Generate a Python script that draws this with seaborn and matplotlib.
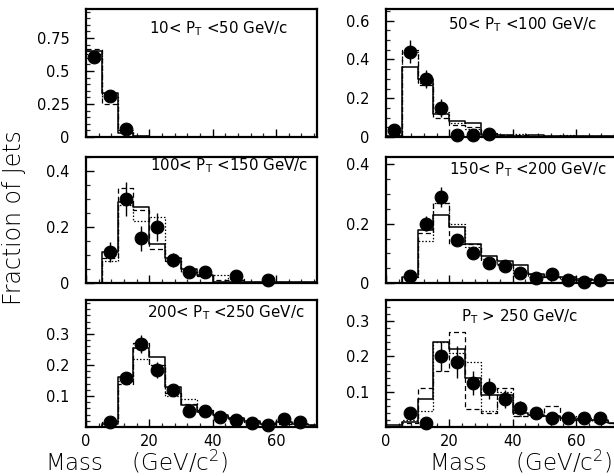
import numpy as np
import pandas as pd
import matplotlib
matplotlib.use("Agg")
import matplotlib.pyplot as plt
import seaborn as sns
from matplotlib.ticker import MultipleLocator, FixedLocator

sns.set_theme(style="ticks")
plt.rcParams["font.family"] = ["DejaVu Sans"]

# ---------------- data ----------------
bin_edges = [0, 5, 10, 15, 20, 25, 30, 35, 40, 45, 50, 55, 60, 65, 70, 75]
bin_centers = [2.5, 7.5, 12.5, 17.5, 22.5, 27.5, 32.5, 37.5, 42.5, 47.5, 52.5, 57.5, 62.5, 67.5, 72.5]

titles = ["10< P$_\\mathregular{T}$ <50 GeV/c", "50< P$_\\mathregular{T}$ <100 GeV/c",
          "100< P$_\\mathregular{T}$ <150 GeV/c", "150< P$_\\mathregular{T}$ <200 GeV/c",
          "200< P$_\\mathregular{T}$ <250 GeV/c", "P$_\\mathregular{T}$ > 250 GeV/c"]

# data points (mass bin centre, fraction, error)
pts1_x = [2.5, 7.5, 12.5]
pts1_y = [0.61, 0.31, 0.06]
pts1_e = [0.03, 0.02, 0.01]

pts2_x = [2.5, 7.5, 12.5, 17.5, 22.5, 27.5, 32.5]
pts2_y = [0.035, 0.44, 0.30, 0.15, 0.01, 0.01, 0.015]
pts2_e = [0.01, 0.06, 0.045, 0.045, 0.005, 0.005, 0.005]

pts3_x = [7.5, 12.5, 17.5, 22.5, 27.5, 32.5, 37.5, 47.5, 57.5]
pts3_y = [0.11, 0.30, 0.16, 0.20, 0.082, 0.04, 0.04, 0.025, 0.01]
pts3_e = [0.035, 0.06, 0.045, 0.05, 0.025, 0.012, 0.015, 0.008, 0.005]

pts4_x = [7.5, 12.5, 17.5, 22.5, 27.5, 32.5, 37.5, 42.5, 47.5, 52.5, 57.5, 62.5, 67.5]
pts4_y = [0.023, 0.20, 0.29, 0.145, 0.10, 0.066, 0.057, 0.035, 0.016, 0.03, 0.01, 0.005, 0.01]
pts4_e = [0.008, 0.025, 0.035, 0.02, 0.015, 0.01, 0.01, 0.008, 0.005, 0.008, 0.005, 0.003, 0.005]

pts5_x = [7.5, 12.5, 17.5, 22.5, 27.5, 32.5, 37.5, 42.5, 47.5, 52.5, 57.5, 62.5, 67.5]
pts5_y = [0.016, 0.158, 0.268, 0.184, 0.12, 0.052, 0.052, 0.033, 0.023, 0.012, 0.006, 0.025, 0.015]
pts5_e = [0.005, 0.02, 0.03, 0.025, 0.015, 0.008, 0.008, 0.006, 0.005, 0.004, 0.003, 0.005, 0.004]

pts6_x = [7.5, 12.5, 17.5, 22.5, 27.5, 32.5, 37.5, 42.5, 47.5, 52.5, 57.5, 62.5, 67.5]
pts6_y = [0.04, 0.01, 0.20, 0.185, 0.125, 0.11, 0.08, 0.053, 0.04, 0.026, 0.026, 0.026, 0.025]
pts6_e = [0.015, 0.005, 0.04, 0.045, 0.035, 0.03, 0.025, 0.02, 0.015, 0.012, 0.012, 0.012, 0.012]

# model histograms (per 5 GeV bin, 0-75)
solid1 = [0.65, 0.33, 0.03, 0.005, 0, 0, 0, 0, 0, 0, 0, 0, 0, 0, 0]
dash1 = [0.67, 0.25, 0.05, 0.005, 0, 0, 0, 0, 0, 0, 0, 0, 0, 0, 0]
dot1 = [0.63, 0.30, 0.05, 0.01, 0.003, 0, 0, 0, 0, 0, 0, 0, 0, 0, 0]

solid2 = [0.005, 0.36, 0.30, 0.12, 0.08, 0.07, 0.01, 0.01, 0.005, 0.01, 0.005, 0.005, 0.005, 0.005, 0.003]
dash2 = [0.005, 0.45, 0.27, 0.10, 0.06, 0.05, 0.02, 0.01, 0.01, 0.005, 0.005, 0.005, 0.005, 0.003, 0.003]
dot2 = [0.005, 0.44, 0.28, 0.13, 0.07, 0.04, 0.015, 0.01, 0.015, 0.005, 0.005, 0.01, 0.005, 0.005, 0.003]

solid3 = [0.0, 0.11, 0.29, 0.27, 0.14, 0.09, 0.05, 0.03, 0.005, 0.005, 0.005, 0.005, 0.005, 0.005, 0.005]
dash3 = [0.0, 0.09, 0.34, 0.26, 0.12, 0.08, 0.04, 0.025, 0.01, 0.01, 0.005, 0.005, 0.005, 0.003, 0.003]
dot3 = [0.0, 0.08, 0.28, 0.22, 0.235, 0.09, 0.04, 0.03, 0.03, 0.015, 0.005, 0.005, 0.005, 0.003, 0.003]

solid4 = [0.0, 0.02, 0.18, 0.23, 0.19, 0.13, 0.09, 0.075, 0.06, 0.03, 0.02, 0.02, 0.015, 0.01, 0.01]
dash4 = [0.0, 0.02, 0.17, 0.27, 0.13, 0.13, 0.07, 0.065, 0.035, 0.03, 0.02, 0.01, 0.01, 0.005, 0.005]
dot4 = [0.0, 0.02, 0.14, 0.27, 0.20, 0.12, 0.08, 0.06, 0.04, 0.02, 0.02, 0.015, 0.01, 0.01, 0.005]

solid5 = [0.0, 0.01, 0.16, 0.255, 0.226, 0.13, 0.07, 0.05, 0.04, 0.03, 0.02, 0.01, 0.015, 0.01, 0.005]
dash5 = [0.0, 0.02, 0.14, 0.27, 0.20, 0.11, 0.075, 0.055, 0.035, 0.03, 0.015, 0.01, 0.01, 0.01, 0.005]
dot5 = [0.0, 0.015, 0.15, 0.22, 0.20, 0.10, 0.09, 0.05, 0.04, 0.025, 0.015, 0.01, 0.015, 0.01, 0.005]

solid6 = [0.005, 0.015, 0.08, 0.24, 0.22, 0.14, 0.09, 0.09, 0.04, 0.035, 0.03, 0.025, 0.02, 0.02, 0.01]
dash6 = [0.0, 0.01, 0.11, 0.16, 0.27, 0.05, 0.04, 0.11, 0.03, 0.03, 0.06, 0.02, 0.02, 0.015, 0.01]
dot6 = [0.0, 0.02, 0.045, 0.24, 0.21, 0.185, 0.045, 0.10, 0.03, 0.035, 0.03, 0.03, 0.025, 0.02, 0.01]

y_tops = [0.97, 0.66, 0.45, 0.425, 0.41, 0.36]
y_major = [[0, 0.25, 0.5, 0.75], [0, 0.2, 0.4, 0.6], [0, 0.2, 0.4], [0, 0.2, 0.4],
           [0.1, 0.2, 0.3], [0.1, 0.2, 0.3]]
y_minor = [0.05, 0.05, 0.05, 0.05, 0.02, 0.02]
x_major = [0, 20, 40, 60]

points = [(pts1_x, pts1_y, pts1_e), (pts2_x, pts2_y, pts2_e), (pts3_x, pts3_y, pts3_e),
          (pts4_x, pts4_y, pts4_e), (pts5_x, pts5_y, pts5_e), (pts6_x, pts6_y, pts6_e)]
hists = [(solid1, dash1, dot1), (solid2, dash2, dot2), (solid3, dash3, dot3),
         (solid4, dash4, dot4), (solid5, dash5, dot5), (solid6, dash6, dot6)]
title_pos = [(0.575, 0.85), (0.59, 0.88), (0.62, 0.935), (0.615, 0.9), (0.605, 0.9), (0.577, 0.87)]

# ---------------- layout ----------------
W, H = 614, 476
fig = plt.figure(figsize=(W / 100, H / 100), dpi=100)
col_x = [86, 386]
ax_w = 231
row_y = [(9, 137), (157, 283), (300, 427)]

def fmt(v):
    if v == 0:
        return "0"
    return "%g" % v

for i in range(6):
    r, c = divmod(i, 2)
    top, bot = row_y[r]
    ax = fig.add_axes([col_x[c] / W, 1 - bot / H, ax_w / W, (bot - top) / H])
    solid, dash, dot = hists[i]
    styles = [(solid, "-", 1.1), (dash, (0, (4, 2.5)), 0.9), (dot, (0, (1.2, 1.5)), 0.9)]
    for vals, ls, lw in styles:
        df = pd.DataFrame({"mass": bin_centers, "frac": vals})
        sns.histplot(data=df, x="mass", weights="frac", bins=bin_edges, element="step",
                     fill=False, color="black", linestyle=ls, linewidth=lw, ax=ax)
    px, py, pe = points[i]
    ax.errorbar(px, py, yerr=pe, fmt="none", ecolor="black", elinewidth=1.0, capsize=0,
                clip_on=False, zorder=4)
    sns.scatterplot(x=px, y=py, color="black", s=85, edgecolor="black", ax=ax, zorder=5,
                    clip_on=False)
    ax.set_xlim(0, 73)
    ax.set_ylim(0, y_tops[i])
    ax.set_xlabel("")
    ax.set_ylabel("")
    ax.yaxis.set_major_locator(FixedLocator(y_major[i]))
    ax.yaxis.set_minor_locator(MultipleLocator(y_minor[i]))
    ax.set_yticklabels([fmt(v) for v in y_major[i]])
    ax.xaxis.set_major_locator(FixedLocator(x_major))
    ax.xaxis.set_minor_locator(MultipleLocator(4))
    if r == 2:
        ax.set_xticklabels([str(v) for v in x_major])
    else:
        ax.set_xticklabels([])
    ax.tick_params(axis="both", which="major", direction="in", length=6, width=1.0,
                   labelsize=10.5, colors="black")
    ax.tick_params(axis="both", which="minor", direction="in", length=3, width=0.9)
    ax.tick_params(axis="y", which="major", pad=12)
    ax.tick_params(axis="x", which="major", pad=5)
    for sp in ax.spines.values():
        sp.set_linewidth(1.6)
        sp.set_color("black")
        sp.set_visible(True)
    ax.text(title_pos[i][0], title_pos[i][1], titles[i], transform=ax.transAxes,
            ha="center", va="center", fontsize=10.8, color="black")

fig.text(0.023, 0.542, "Fraction of Jets", rotation=90, ha="center", va="center",
         fontsize=17, color="black", fontweight="light")
fig.text(0.223, 0.03, "Mass    (GeV/c$^\\mathregular{2}$)", ha="center", va="center",
         fontsize=16.5, color="black", fontweight="light")
fig.text(0.847, 0.03, "Mass    (GeV/c$^\\mathregular{2}$)", ha="center", va="center",
         fontsize=16.5, color="black", fontweight="light")

fig.savefig("out.png", dpi=100, facecolor="white")
